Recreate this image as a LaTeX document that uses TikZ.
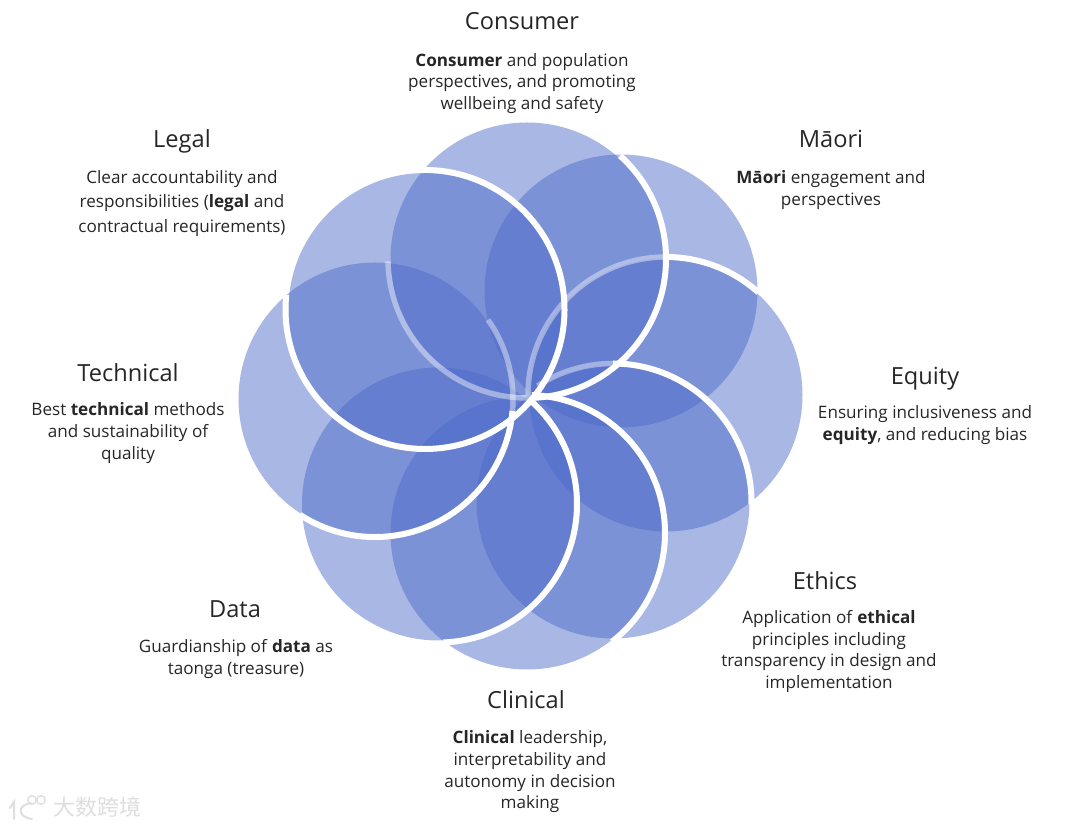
\documentclass[tikz,border=0pt]{standalone}
\usepackage{fontspec}
\setmainfont{Open Sans}
\newfontfamily\cjkwm{Noto Sans CJK SC}
\definecolor{petal}{HTML}{4C69C8}
\definecolor{ink}{HTML}{262626}
\definecolor{wm}{HTML}{DEDEDE}
\tikzset{
  x=1pt,y=1pt,
  petalfill/.style={fill=petal,fill opacity=.48,draw=none},
  strong/.style={draw=white,line width=6pt},
  faint/.style={draw=white,draw opacity=.4,line width=5.5pt},
  head/.style={font=\fontsize{23.6}{28}\selectfont,text=ink,inner sep=0pt},
  body/.style={font=\fontsize{17.1}{21.7}\selectfont,text=ink,inner sep=0pt,align=center},
}
\newcommand{\petalarc}[5]{\draw[#1,shift={(#2)}] (#3:#5pt) arc[start angle=#3,end angle=#4,radius=#5pt];}
\begin{document}
\begin{tikzpicture}
\useasboundingbox (0,0) rectangle (1080,827);
\coordinate (A) at (527,568);  % Consumer
\coordinate (B) at (621,536);  % Maori
\coordinate (C) at (666,432);  % Equity
\coordinate (D) at (613,325);  % Ethics
\coordinate (E) at (527,294);  % Clinical
\coordinate (F) at (438.5,323);% Data
\coordinate (G) at (375,428);  % Technical
\coordinate (H) at (425,517.5);% Legal
\foreach \c in {A,B,C,D,E,F,G,H} {\fill[petalfill] (\c) circle[radius=136.5pt];}
% translucent rings
\petalarc{faint}{A}{181}{272}{139}
\petalarc{faint}{C}{90}{180}{138}
\petalarc{faint}{D}{90}{123}{138.5}
\petalarc{faint}{G}{-5}{35}{138}
% white rings
\petalarc{strong}{C}{48}{90}{138}
\petalarc{strong}{D}{-1}{90}{138.5}
\petalarc{strong}{A}{48}{-88}{139}
\petalarc{strong}{E}{-52}{88}{138}
\petalarc{strong}{F}{-88}{48}{138.5}
\petalarc{strong}{G}{237}{355}{138}
\petalarc{strong}{H}{94}{-186}{139.5}
% labels
\node[head] (h1) at (522,806) {Consumer};
\node[body] (b1) at (522,743.5) {\textbf{Consumer} and population\\perspectives, and promoting\\wellbeing and safety};
\node[head] (h2) at (831,688) {Māori};
\node[body] (b2) at (831,637) {\textbf{Māori} engagement and\\perspectives};
\node[head] (h3) at (925,448) {Equity};
\node[body] (b3) at (925,402) {Ensuring inclusiveness and\\\textbf{equity}, and reducing bias};
\node[head] (h4) at (825,246) {Ethics};
\node[body] (b4) at (829,175.5) {Application of \textbf{ethical}\\principles including\\transparency in design and\\implementation};
\node[head] (h5) at (526,127) {Clinical};
\node[body] (b5) at (530,55) {\textbf{Clinical} leadership,\\interpretability and\\autonomy in decision\\making};
\node[head] (h6) at (235,218) {Data};
\node[body] (b6) at (236,168) {Guardianship of \textbf{data} as\\taonga (treasure)};
\node[head] (h7) at (128,454) {Technical};
\node[body] (b7) at (128,394) {Best \textbf{technical} methods\\and sustainability of\\quality};
\node[head] (h8) at (182,686) {Legal};
\node[body,font=\fontsize{17.1}{24.2}\selectfont] (b8) at (182,623.5) {Clear accountability and\\responsibilities (\textbf{legal} and\\contractual requirements)};
% watermark
\node[inner sep=0pt,text=wm,font=\cjkwm\fontsize{22}{26}\selectfont] (wm) at (97,20) {大数跨境};
\draw[wm,line width=2pt,line cap=round] (10,19) -- (14,25) -- (14,8)
  (31,24) .. controls (17,22) and (17,10) .. (32,8);
\draw[wm,line width=1.4pt] (32,27) circle[radius=4.3pt] (41,27) circle[radius=4.3pt];
\end{tikzpicture}
\end{document}
